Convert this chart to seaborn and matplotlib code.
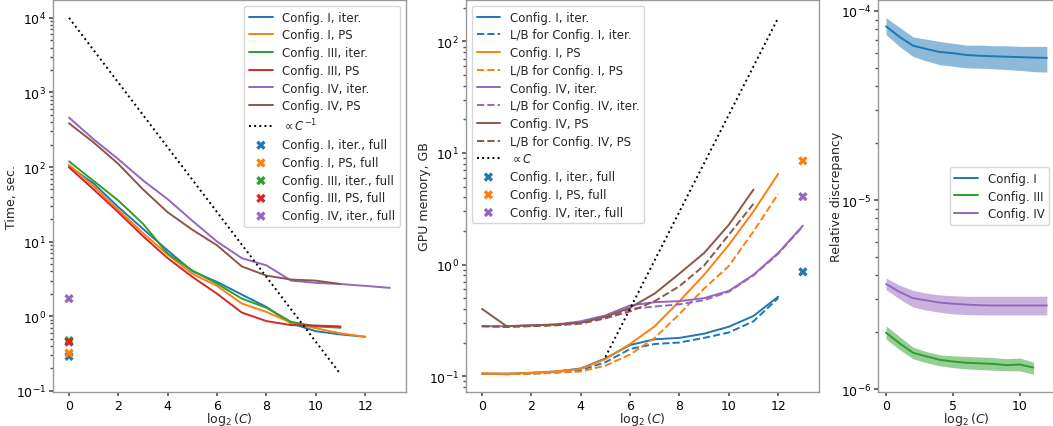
import numpy as np
import matplotlib
matplotlib.use('Agg')
import matplotlib.pyplot as plt
import seaborn as sns

sns.set_theme(style='ticks', rc={
    'axes.edgecolor': '#999999',
    'xtick.color': '#555555',
    'ytick.color': '#555555',
    'axes.linewidth': 1.0,
})
plt.rcParams['font.family'] = ['DejaVu Sans']
plt.rcParams.update({
    'font.size': 9,
    'axes.labelsize': 9,
    'xtick.labelsize': 9,
    'ytick.labelsize': 9,
    'legend.fontsize': 8.5,
    'legend.labelspacing': 0.4,
    'xtick.labelcolor': 'black',
    'ytick.labelcolor': 'black',
    'xtick.major.pad': 2,
    'ytick.major.pad': 2,
})

blue, orange, green, red, purple, brown = sns.color_palette('tab10')[:6]

# ---- timing (left panel) ----
t_I_iter = [103, 60, 29, 14.8, 7.6, 4.0, 2.88, 1.95, 1.33, 0.80, 0.63, 0.57, 0.53]
t_I_ps = [107, 55, 26.6, 13, 6.7, 3.7, 2.55, 1.48, 1.14, 0.82, 0.69, 0.59, 0.53]
t_III_iter = [119, 65, 35.5, 17.3, 6.9, 4.1, 2.73, 1.72, 1.3, 0.84, 0.73, 0.70]
t_III_ps = [99, 50, 24.7, 11.8, 6.0, 3.36, 2.0, 1.12, 0.86, 0.76, 0.75, 0.73]
t_IV_iter = [460, 235, 127, 66, 37, 19, 10, 6.0, 4.8, 3.0, 2.8, 2.7, 2.55, 2.4]
t_IV_ps = [386, 213, 110, 50, 24.7, 14.4, 8.9, 4.65, 3.5, 3.1, 3.0, 2.7]
t_full = {'Config. I, iter., full': 0.29, 'Config. I, PS, full': 0.32,
          'Config. III, iter., full': 0.47, 'Config. III, PS, full': 0.45,
          'Config. IV, iter., full': 1.72}
t_full_colors = [blue, orange, green, red, purple]
x_ref_time = np.arange(0, 12)

# ---- memory (middle panel) ----
m_I_iter = [0.105, 0.105, 0.107, 0.110, 0.117, 0.144, 0.19, 0.214, 0.22, 0.24, 0.277, 0.346, 0.515]
m_I_iter_lb = [0.105, 0.104, 0.105, 0.108, 0.113, 0.133, 0.175, 0.194, 0.20, 0.22, 0.246, 0.31, 0.50]
m_I_ps = [0.106, 0.105, 0.107, 0.110, 0.116, 0.142, 0.194, 0.28, 0.47, 0.81, 1.5, 3.0, 6.5]
m_I_ps_lb = [0.105, 0.104, 0.105, 0.107, 0.110, 0.124, 0.156, 0.22, 0.36, 0.61, 0.97, 1.98, 4.3]
m_IV_iter = [0.28, 0.28, 0.285, 0.29, 0.31, 0.35, 0.43, 0.46, 0.47, 0.50, 0.58, 0.81, 1.27, 2.23]
m_IV_iter_lb = [0.28, 0.28, 0.283, 0.288, 0.30, 0.33, 0.40, 0.42, 0.44, 0.48, 0.57, 0.80, 1.25, 2.2]
m_IV_ps = [0.40, 0.28, 0.285, 0.29, 0.30, 0.34, 0.41, 0.55, 0.83, 1.27, 2.27, 4.7]
m_IV_ps_lb = [0.28, 0.275, 0.28, 0.285, 0.295, 0.33, 0.38, 0.47, 0.64, 0.98, 1.85, 3.5]
m_full = {'Config. I, iter., full': 0.86, 'Config. I, PS, full': 8.5,
          'Config. IV, iter., full': 4.06}
m_full_colors = [blue, orange, purple]
x_ref_mem = np.arange(5, 13)

# ---- relative discrepancy (right panel) ----
d_I = [8.3e-5, 7.3e-5, 6.56e-5, 6.3e-5, 6.07e-5, 5.98e-5, 5.85e-5, 5.8e-5, 5.76e-5, 5.73e-5, 5.7e-5, 5.67e-5, 5.65e-5]
d_I_hi = [9.2e-5, 8.2e-5, 7.3e-5, 7.1e-5, 6.9e-5, 6.75e-5, 6.6e-5, 6.6e-5, 6.55e-5, 6.55e-5, 6.5e-5, 6.5e-5, 6.5e-5]
d_I_lo = [7.5e-5, 6.5e-5, 5.75e-5, 5.45e-5, 5.2e-5, 5.1e-5, 5.0e-5, 4.98e-5, 4.95e-5, 4.9e-5, 4.85e-5, 4.78e-5, 4.75e-5]
d_III = [1.99e-6, 1.75e-6, 1.56e-6, 1.49e-6, 1.43e-6, 1.40e-6, 1.38e-6, 1.37e-6, 1.36e-6, 1.34e-6, 1.35e-6, 1.30e-6]
d_III_hi = [2.16e-6, 1.9e-6, 1.67e-6, 1.58e-6, 1.52e-6, 1.5e-6, 1.49e-6, 1.48e-6, 1.47e-6, 1.45e-6, 1.46e-6, 1.39e-6]
d_III_lo = [1.84e-6, 1.62e-6, 1.45e-6, 1.38e-6, 1.33e-6, 1.3e-6, 1.28e-6, 1.27e-6, 1.26e-6, 1.25e-6, 1.25e-6, 1.2e-6]
d_IV = [3.6e-6, 3.27e-6, 3.03e-6, 2.95e-6, 2.87e-6, 2.83e-6, 2.8e-6, 2.78e-6, 2.77e-6, 2.77e-6, 2.77e-6, 2.77e-6, 2.77e-6]
d_IV_hi = [3.87e-6, 3.55e-6, 3.33e-6, 3.22e-6, 3.15e-6, 3.12e-6, 3.1e-6, 3.1e-6, 3.1e-6, 3.1e-6, 3.1e-6, 3.1e-6, 3.1e-6]
d_IV_lo = [3.36e-6, 3.0e-6, 2.72e-6, 2.62e-6, 2.55e-6, 2.5e-6, 2.48e-6, 2.47e-6, 2.47e-6, 2.47e-6, 2.47e-6, 2.47e-6, 2.47e-6]

LW = 1.4

fig = plt.figure(figsize=(10.53, 4.27), dpi=100)
ax1 = fig.add_axes([0.0503, 0.0796, 0.3352, 0.918])
ax2 = fig.add_axes([0.4425, 0.0796, 0.3352, 0.918])
ax3 = fig.add_axes([0.8338, 0.0796, 0.168, 0.918])


def line(ax, y, color, label, ls='-'):
    x = np.arange(len(y))
    sns.lineplot(x=x, y=y, color=color, label=label, linestyle=ls, lw=LW, ax=ax)


# left panel
line(ax1, t_I_iter, blue, 'Config. I, iter.')
line(ax1, t_I_ps, orange, 'Config. I, PS')
line(ax1, t_III_iter, green, 'Config. III, iter.')
line(ax1, t_III_ps, red, 'Config. III, PS')
line(ax1, t_IV_iter, purple, 'Config. IV, iter.')
line(ax1, t_IV_ps, brown, 'Config. IV, PS')
sns.lineplot(x=x_ref_time, y=1e4 * np.exp(-x_ref_time), color='black', linestyle=':',
             lw=LW, label=r'$\propto C^{-1}$', ax=ax1)
for (lab, v), c in zip(t_full.items(), t_full_colors):
    sns.scatterplot(x=[0], y=[v], color=c, marker='X', s=45, label=lab, ax=ax1,
                    edgecolor='none')
ax1.set_yscale('log')
ax1.set_xlabel(r'$\log_2(C)$')
ax1.set_ylabel('Time, sec.')
ax1.legend(loc='upper right')

# middle panel
line(ax2, m_I_iter, blue, 'Config. I, iter.')
line(ax2, m_I_iter_lb, blue, 'L/B for Config. I, iter.', '--')
line(ax2, m_I_ps, orange, 'Config. I, PS')
line(ax2, m_I_ps_lb, orange, 'L/B for Config. I, PS', '--')
line(ax2, m_IV_iter, purple, 'Config. IV, iter.')
line(ax2, m_IV_iter_lb, purple, 'L/B for Config. IV, iter.', '--')
line(ax2, m_IV_ps, brown, 'Config. IV, PS')
line(ax2, m_IV_ps_lb, brown, 'L/B for Config. IV, PS', '--')
sns.lineplot(x=x_ref_mem, y=1e-3 * np.exp(x_ref_mem), color='black', linestyle=':',
             lw=LW, label=r'$\propto C$', ax=ax2)
for (lab, v), c in zip(m_full.items(), m_full_colors):
    sns.scatterplot(x=[13], y=[v], color=c, marker='X', s=45, label=lab, ax=ax2,
                    edgecolor='none')
ax2.set_yscale('log')
ax2.set_xlabel(r'$\log_2(C)$')
ax2.set_ylabel('GPU memory, GB')
ax2.legend(loc='upper left')

# right panel
for y, lo, hi, c, lab in [(d_I, d_I_lo, d_I_hi, blue, 'Config. I'),
                          (d_III, d_III_lo, d_III_hi, green, 'Config. III'),
                          (d_IV, d_IV_lo, d_IV_hi, purple, 'Config. IV')]:
    x = np.arange(len(y))
    sns.lineplot(x=x, y=y, color=c, lw=LW, label=lab, ax=ax3)
    ax3.fill_between(x, lo, hi, color=c, alpha=0.5, lw=0)
ax3.set_yscale('log')
ax3.set_xlabel(r'$\log_2(C)$')
ax3.set_ylabel('Relative discrepancy')
ax3.legend(loc='center right')

# label placement: x-label top 18 px below axis, y-label centre 41 px left of axis
for ax in (ax1, ax2, ax3):
    ax.tick_params(which='major', length=3)
    ax.tick_params(which='minor', length=2)
    w = ax.get_position().width * fig.get_figwidth() * fig.dpi
    h = ax.get_position().height * fig.get_figheight() * fig.dpi
    ax.xaxis.set_label_coords(0.5, -18 / h)
    ax.yaxis.set_label_coords(-41 / w, 0.5)
    ax.yaxis.label.set_va('center')

fig.savefig('out.png', dpi=100)
